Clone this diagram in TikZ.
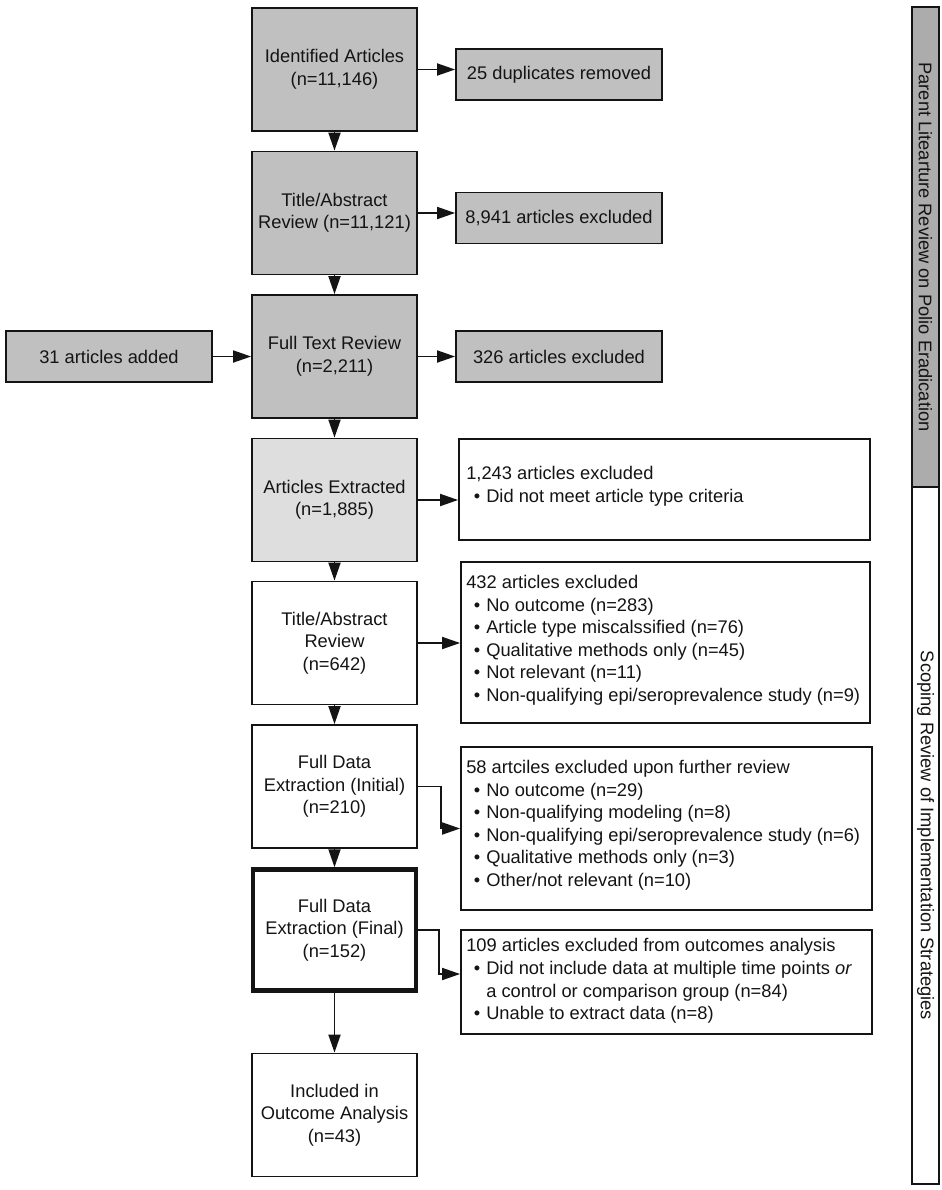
\documentclass[tikz,border=0pt]{standalone}
\usepackage{fontspec}
\setmainfont{Liberation Sans}
\usetikzlibrary{arrows.meta}
\definecolor{boxgray}{RGB}{192,192,192}
\definecolor{lightgray2}{RGB}{222,222,222}
\definecolor{bargray}{RGB}{172,172,172}
\definecolor{ink}{RGB}{20,20,20}
\newcommand{\bul}{\makebox[20bp][r]{\textbullet\hspace{6bp}}}
\begin{document}
\begin{tikzpicture}[x=1bp,y=-1bp,
  every node/.style={font=\fontsize{18.3bp}{22.5bp}\selectfont, text=ink},
  mainbox/.style={draw=ink, line width=1.8bp, rectangle, inner sep=0pt, minimum width=165bp, minimum height=123bp, align=center, anchor=center},
  sidebox/.style={draw=ink, line width=1.8bp, rectangle, inner sep=0pt, minimum width=206bp, minimum height=51bp, align=center, anchor=center, fill=boxgray},
  listbox/.style={draw=ink, line width=1.8bp, rectangle, inner sep=0pt, anchor=center, fill=white},
  listtext/.style={inner sep=0pt, align=left, anchor=west},
  conn/.style={draw=ink, line width=1.8bp, -{Triangle[length=18bp,width=12bp]}}
]
\useasboundingbox (0,0) rectangle (942,1190);
\fill[white] (0,0) rectangle (942,1190);

% main column
\node[mainbox, fill=boxgray] (id) at (334.5,69.5) {Identified Articles\\(n=11,146)};
\node[mainbox, fill=boxgray] (ta1) at (334.5,213) {Title/Abstract\\Review (n=11,121)};
\node[mainbox, fill=boxgray] (ft) at (334.5,356.5) {Full Text Review\\(n=2,211)};
\node[mainbox, fill=lightgray2] (ae) at (334.5,500) {Articles Extracted\\(n=1,885)};
\node[mainbox, fill=white] (ta2) at (334.5,643) {Title/Abstract\\Review\\(n=642)};
\node[mainbox, fill=white] (ini) at (334.5,786.5) {Full Data\\Extraction (Initial)\\(n=210)};
\node[mainbox, fill=white, line width=4.5bp, minimum width=163bp, minimum height=121bp] (fin) at (334.5,930) {Full Data\\Extraction (Final)\\(n=152)};
\node[mainbox, fill=white] (inc) at (334.5,1115) {Included in\\Outcome Analysis\\(n=43)};

% side boxes
\node[sidebox] (dup) at (559,74.5) {25 duplicates removed};
\node[sidebox] (ex1) at (559,218) {8,941 articles excluded};
\node[sidebox] (ex2) at (559,356.5) {326 articles excluded};
\node[sidebox] (add) at (109,356.5) {31 articles added};

\node[listbox, minimum width=411bp, minimum height=101bp] (b1243) at (664.5,489.5) {};
\node[listtext] (b1243t) at ([xshift=8bp,yshift=3bp]b1243.west)
  {1,243 articles excluded\\
   \bul Did not meet article type criteria};
\node[listbox, minimum width=409bp, minimum height=161bp] (b432) at (665.5,642.5) {};
\node[listtext] (b432t) at ([xshift=6bp,yshift=2bp]b432.west)
  {432 articles excluded\\
   \bul No outcome (n=283)\\
   \bul Article type miscalssified (n=76)\\
   \bul Qualitative methods only (n=45)\\
   \bul Not relevant (n=11)\\
   \bul Non-qualifying epi/seroprevalence study (n=9)};
\node[listbox, minimum width=411bp, minimum height=163bp] (b58) at (666.5,828.5) {};
\node[listtext] (b58t) at ([xshift=6bp,yshift=3bp]b58.west)
  {58 artciles excluded upon further review\\
   \bul No outcome (n=29)\\
   \bul Non-qualifying modeling (n=8)\\
   \bul Non-qualifying epi/seroprevalence study (n=6)\\
   \bul Qualitative methods only (n=3)\\
   \bul Other/not relevant (n=10)};
\node[listbox, minimum width=411bp, minimum height=104bp] (b109) at (666.5,982) {};
\node[listtext] (b109t) at ([xshift=6bp,yshift=1bp]b109.west)
  {109 articles excluded from outcomes analysis\\
   \bul Did not include data at multiple time points \emph{or}\\
   \hspace*{20bp}a control or comparison group (n=84)\\
   \bul Unable to extract data (n=8)};

% side bar
\node[draw=ink, line width=1.8bp, fill=bargray, minimum width=27bp, minimum height=480bp, inner sep=0pt, anchor=center] (barA) at (925.5,247) {};
\node[draw=ink, line width=1.8bp, fill=white, minimum width=27bp, minimum height=697bp, inner sep=0pt, anchor=center] (barB) at (925.5,835.5) {};
\node[rotate=-90, inner sep=0pt] (barAt) at (barA.center) {Parent Litearture Review on Polio Eradication};
\node[rotate=-90, inner sep=0pt] (barBt) at (barB.center) {Scoping Review of Implementation Strategies};

% vertical connectors
\draw[conn] (id.south) -- (ta1.north);
\draw[conn] (ta1.south) -- (ft.north);
\draw[conn] (ft.south) -- (ae.north);
\draw[conn] (ae.south) -- (ta2.north);
\draw[conn] (ta2.south) -- (ini.north);
\draw[conn] (ini.south) -- (fin.north);
\draw[conn] (fin.south) -- (inc.north);

% horizontal connectors
\draw[conn] (id.east) -- (id.east -| dup.west);
\draw[conn] (ta1.east) -- (ta1.east -| ex1.west);
\draw[conn] (ft.east) -- (ft.east -| ex2.west);
\draw[conn] (add.east) -- (add.east -| ft.west);
\draw[conn] (ae.east) -- (ae.east -| b1243.west);
\draw[conn] (ta2.east) -- (ta2.east -| b432.west);
\coordinate (e58) at (b58.west);
\coordinate (e109) at ([yshift=8bp]b109.west);
\draw[conn] (ini.east) -- ++(23,0) |- (e58);
\draw[conn] (fin.east) -- ++(21,0) |- (e109);
\end{tikzpicture}
\end{document}
